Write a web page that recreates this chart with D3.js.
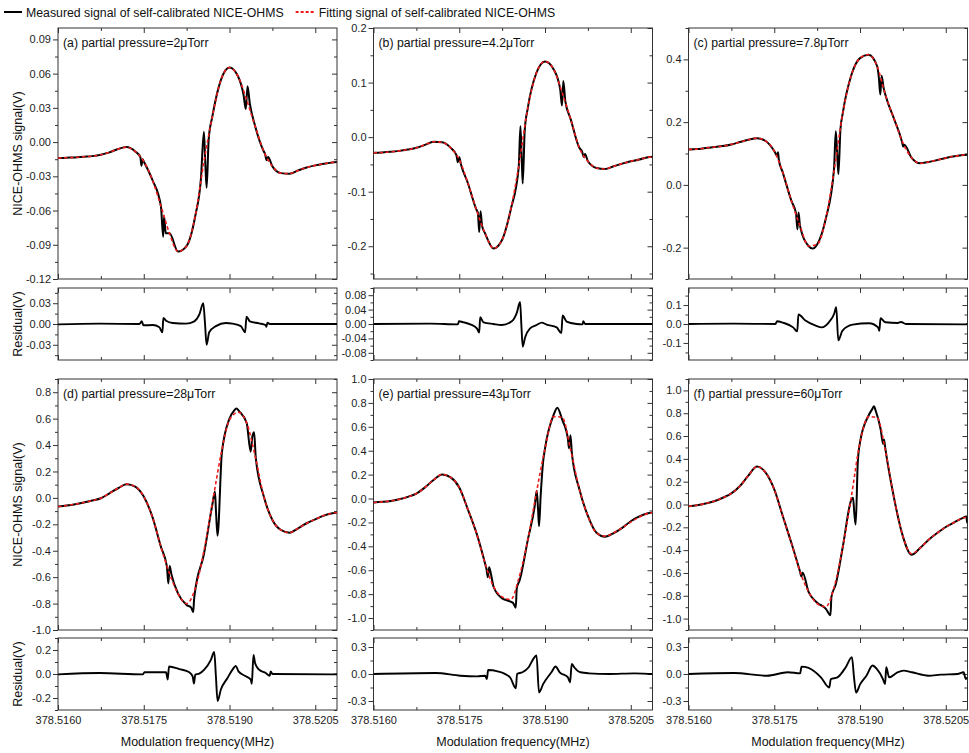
<!DOCTYPE html>
<html lang="en">
<head>
<meta charset="UTF-8">
<title>Self-calibrated NICE-OHMS signals</title>
<script src="https://d3js.org/d3.v7.min.js"></script>
<style>
  body { margin: 0; background: #fff; }
  svg { display: block; font-family: "Liberation Sans", Arial, sans-serif; }
  .tick text { font-size: 11px; fill: #222; }
  .domain { display: none; }
  .tick line { stroke: #333; }
</style>
</head>
<body>
<svg id="chart" width="969" height="753"></svg>
<script>
// x values are offsets from 378.5160 MHz, in kHz
const xDomain = [0, 4.88];
const xTicks = [0, 1.5, 3.0, 4.5];
const xMinorTicks = [0.75, 2.25, 3.75];
const xTickLabels = ["378.5160", "378.5175", "378.5190", "378.5205"];

// grid of the fitted curves
const fitGrid = [0, 0.15, 0.3, 0.45, 0.6, 0.75, 0.9, 1.05, 1.2, 1.35, 1.5, 1.65, 1.8, 1.95, 2.1, 2.25, 2.4,
  2.55, 2.7, 2.85, 3.0, 3.15, 3.3, 3.45, 3.6, 3.75, 3.9, 4.05, 4.2, 4.35, 4.5, 4.65, 4.8, 4.88];

// (a) 2 uTorr
const fitA = [-0.0140, -0.0137, -0.0134, -0.0128, -0.0123, -0.0111, -0.0090, -0.0061, -0.0044, -0.0082, -0.0169,
  -0.033, -0.056, -0.080, -0.096, -0.091, -0.065, -0.018, 0.0225, 0.0546, 0.0654, 0.0575, 0.037, 0.0137, -0.0082,
  -0.0213, -0.0272, -0.0277, -0.0248, -0.0222, -0.0204, -0.0190, -0.0178, -0.0175];
const measA = [[0,-0.0140],[0.15,-0.0137],[0.3,-0.0134],[0.45,-0.0128],[0.6,-0.0123],[0.75,-0.0111],[0.9,-0.0090],
  [1.05,-0.0061],[1.2,-0.0044],[1.35,-0.0082],[1.44,-0.0131],[1.46,-0.0207],[1.48,-0.0150],[1.5,-0.0169],[1.65,-0.033],
  [1.8,-0.056],[1.84,-0.083],[1.855,-0.065],[1.885,-0.080],[1.95,-0.080],[2.1,-0.096],[2.25,-0.091],[2.4,-0.065],
  [2.5,-0.032],[2.552,0.009],[2.576,-0.018],[2.6,-0.040],[2.635,0.002],[2.7,0.0225],[2.85,0.0546],[3.0,0.0654],
  [3.15,0.0575],[3.245,0.0415],[3.285,0.029],[3.315,0.049],[3.355,0.034],[3.45,0.0137],[3.6,-0.0082],[3.62,-0.0102],
  [3.65,-0.016],[3.675,-0.013],[3.75,-0.0213],[3.9,-0.0272],[4.05,-0.0277],[4.2,-0.0248],[4.35,-0.0222],[4.5,-0.0204],
  [4.65,-0.0190],[4.8,-0.0178],[4.88,-0.0175]];
const resA = [[0,-0.0005],[0.727,0.0005],[1.424,0],[1.465,0.0039],[1.494,-0.0019],[1.657,-0.0015],[1.773,-0.0048],
  [1.826,-0.012],[1.843,0.0087],[1.89,0.0048],[2.006,0.0015],[2.238,0.0005],[2.384,0.0039],[2.471,0.0135],[2.541,0.030],
  [2.57,0.0024],[2.599,-0.030],[2.645,-0.012],[2.762,-0.003],[2.936,0.0015],[3.052,0.0005],[3.198,-0.003],[3.273,-0.012],
  [3.297,0.0106],[3.355,0.0039],[3.517,0.001],[3.634,-0.0015],[3.645,-0.004],[3.663,0.002],[3.703,0],[4.74,0],[4.88,0]];

// (b) 4.2 uTorr
const fitB = [-0.0288, -0.0282, -0.027, -0.0252, -0.0227, -0.0196, -0.0141, -0.0085, -0.0095, -0.0196, -0.041, -0.084,
  -0.133, -0.176, -0.204, -0.188, -0.133, -0.047, 0.054, 0.118, 0.1387, 0.1245, 0.0816, 0.0325, -0.0196, -0.0442,
  -0.0564, -0.0583, -0.0534, -0.0485, -0.0442, -0.0411, -0.0368, -0.036];
const measB = [[0,-0.0288],[0.15,-0.0282],[0.3,-0.027],[0.45,-0.0252],[0.6,-0.0227],[0.75,-0.0196],[0.9,-0.0141],
  [1.05,-0.0085],[1.2,-0.0095],[1.35,-0.0196],[1.45,-0.033],[1.475,-0.046],[1.5,-0.037],[1.53,-0.050],[1.65,-0.084],
  [1.8,-0.133],[1.826,-0.139],[1.849,-0.174],[1.872,-0.136],[1.9,-0.163],[1.95,-0.176],[2.1,-0.204],[2.25,-0.188],
  [2.4,-0.133],[2.54,-0.055],[2.57,0.020],[2.593,-0.041],[2.61,-0.085],[2.645,0.012],[2.7,0.054],[2.85,0.118],
  [3.0,0.1387],[3.15,0.1245],[3.265,0.088],[3.297,0.058],[3.32,0.103],[3.355,0.066],[3.45,0.0325],[3.6,-0.0196],
  [3.65,-0.027],[3.675,-0.036],[3.7,-0.031],[3.75,-0.0442],[3.9,-0.0564],[4.05,-0.0583],[4.2,-0.0534],[4.35,-0.0485],
  [4.5,-0.0442],[4.65,-0.0411],[4.8,-0.0368],[4.88,-0.036]];
const resB = [[0,0],[0.994,0.001],[1.477,-0.001],[1.494,0.0075],[1.576,0.0047],[1.692,-0.001],[1.808,-0.0122],
  [1.849,-0.0235],[1.866,0.0188],[1.924,0.0047],[2.099,0],[2.244,-0.0028],[2.419,0.0075],[2.506,0.031],[2.564,0.061],
  [2.587,-0.0047],[2.61,-0.063],[2.651,-0.0376],[2.738,-0.0122],[2.855,-0.0028],[2.942,0.0038],[3.029,-0.0019],
  [3.204,-0.0094],[3.285,-0.0254],[3.308,0.0235],[3.378,0.0066],[3.552,0],[3.657,-0.001],[3.669,0.0075],[3.703,0],
  [4.83,0],[4.88,0]];

// (c) 7.8 uTorr
const fitC = [0.113, 0.114, 0.1175, 0.1206, 0.1238, 0.129, 0.1365, 0.144, 0.149, 0.1397, 0.108, 0.039, -0.051, -0.130,
  -0.195, -0.19, -0.109, 0.05, 0.23, 0.351, 0.404, 0.415, 0.378, 0.283, 0.208, 0.134, 0.087, 0.069, 0.073, 0.079,
  0.0857, 0.091, 0.095, 0.096];
const measC = [[0,0.113],[0.15,0.114],[0.3,0.1175],[0.45,0.1206],[0.6,0.1238],[0.75,0.129],[0.9,0.1365],[1.05,0.144],
  [1.2,0.149],[1.35,0.1397],[1.5,0.108],[1.55,0.093],[1.565,0.104],[1.58,0.08],[1.65,0.039],[1.8,-0.051],[1.88,-0.09],
  [1.905,-0.142],[1.925,-0.088],[1.95,-0.130],[2.1,-0.195],[2.17,-0.203],[2.25,-0.19],[2.4,-0.109],[2.545,0.05],
  [2.576,0.171],[2.6,0.103],[2.622,0.034],[2.657,0.175],[2.7,0.23],[2.85,0.351],[3.0,0.404],[3.15,0.415],[3.3,0.378],
  [3.33,0.341],[3.355,0.288],[3.378,0.348],[3.413,0.309],[3.45,0.283],[3.6,0.208],[3.735,0.137],[3.755,0.122],
  [3.775,0.128],[3.9,0.087],[4.05,0.069],[4.2,0.073],[4.35,0.079],[4.5,0.0857],[4.65,0.091],[4.8,0.095],[4.88,0.096]];
const resC = [[0,0],[0.789,0.0018],[1.52,0],[1.55,0.0143],[1.651,0.0071],[1.83,-0.0179],[1.902,-0.039],[1.923,0.05],
  [2.045,0.018],[2.225,-0.009],[2.332,-0.018],[2.455,0.009],[2.548,0.054],[2.584,0.089],[2.62,-0.086],[2.691,-0.036],
  [2.871,-0.0036],[3.158,0.0036],[3.316,-0.018],[3.337,-0.036],[3.359,0.030],[3.445,0.009],[3.66,0.0054],[3.718,0.0107],
  [3.804,0],[4.84,-0.0018],[4.88,0]];

// (d) 28 uTorr
const fitD = [-0.066, -0.058, -0.048, -0.035, -0.020, -0.0025, 0.035, 0.073, 0.104, 0.086, 0.010, -0.142, -0.370,
  -0.572, -0.724, -0.80, -0.686, -0.408, -0.041, 0.327, 0.592, 0.648, 0.567, 0.314, 0.010, -0.167, -0.243, -0.263,
  -0.230, -0.192, -0.162, -0.134, -0.116, -0.11];
const measD = [[0,-0.066],[0.15,-0.058],[0.3,-0.048],[0.45,-0.035],[0.6,-0.020],[0.75,-0.0025],[0.9,0.035],[1.05,0.073],
  [1.2,0.104],[1.35,0.086],[1.5,0.010],[1.65,-0.142],[1.8,-0.370],[1.905,-0.52],[1.93,-0.648],[1.953,-0.516],
  [1.983,-0.577],[2.1,-0.724],[2.25,-0.81],[2.33,-0.83],[2.365,-0.865],[2.38,-0.77],[2.4,-0.70],[2.55,-0.43],[2.7,-0.05],
  [2.745,0.048],[2.765,-0.116],[2.79,-0.286],[2.866,0.34],[3.0,0.60],[3.08,0.66],[3.12,0.676],[3.17,0.655],[3.3,0.567],
  [3.37,0.35],[3.40,0.466],[3.43,0.496],[3.46,0.30],[3.6,0.01],[3.75,-0.167],[3.9,-0.243],[4.05,-0.263],[4.2,-0.230],
  [4.35,-0.192],[4.5,-0.162],[4.65,-0.134],[4.8,-0.116],[4.88,-0.11]];
const resD = [[0,-0.003],[0.727,0.008],[1.483,-0.003],[1.512,0.014],[1.89,0.014],[1.919,-0.047],[1.942,0.063],
  [2.122,0.041],[2.297,0.014],[2.355,-0.019],[2.378,-0.079],[2.401,-0.005],[2.471,0.003],[2.558,0.036],[2.674,0.118],
  [2.733,0.184],[2.762,-0.019],[2.791,-0.225],[2.849,-0.129],[2.965,-0.033],[3.052,0.036],[3.11,0.068],[3.157,0.022],
  [3.285,-0.019],[3.372,-0.047],[3.39,-0.082],[3.419,0.159],[3.448,0.090],[3.517,0.036],[3.634,0.008],[3.703,-0.014],
  [3.721,0.022],[3.75,0],[4.797,-0.003],[4.88,-0.002]];

// (e) 43 uTorr
const fitE = [-0.034, -0.028, -0.020, -0.006, 0.014, 0.042, 0.093, 0.155, 0.202, 0.177, 0.093, -0.090, -0.287, -0.541,
  -0.738, -0.823, -0.845, -0.654, -0.344, 0.051, 0.417, 0.685, 0.68, 0.403, 0.079, -0.146, -0.287, -0.315, -0.287,
  -0.245, -0.197, -0.155, -0.124, -0.118];
const measE = [[0,-0.034],[0.15,-0.028],[0.3,-0.020],[0.45,-0.006],[0.6,0.014],[0.75,0.042],[0.9,0.093],[1.05,0.155],
  [1.2,0.202],[1.35,0.177],[1.5,0.093],[1.65,-0.090],[1.8,-0.287],[1.95,-0.541],[1.977,-0.592],[2.0,-0.659],
  [2.023,-0.575],[2.058,-0.64],[2.1,-0.738],[2.25,-0.835],[2.33,-0.851],[2.44,-0.873],[2.488,-0.913],[2.506,-0.752],
  [2.558,-0.682],[2.7,-0.344],[2.82,-0.062],[2.855,0.065],[2.878,-0.09],[2.895,-0.231],[2.924,0.023],[2.965,0.30],
  [3.0,0.42],[3.15,0.70],[3.215,0.76],[3.3,0.66],[3.4,0.50],[3.42,0.42],[3.445,0.53],[3.47,0.38],[3.6,0.079],
  [3.75,-0.146],[3.9,-0.287],[4.05,-0.32],[4.2,-0.29],[4.35,-0.245],[4.5,-0.19],[4.65,-0.15],[4.8,-0.124],[4.88,-0.118]];
const resE = [[0,0],[1.086,0.011],[1.52,-0.019],[1.809,-0.026],[1.954,-0.019],[1.983,-0.056],[2.005,0.045],[2.171,0.03],
  [2.388,-0.0375],[2.49,-0.158],[2.511,0],[2.605,0.019],[2.714,0.075],[2.808,0.18],[2.851,0.206],[2.895,-0.206],
  [2.967,-0.1125],[3.112,0.019],[3.184,0.083],[3.257,0.019],[3.401,-0.0375],[3.438,-0.094],[3.467,0.113],[3.51,0.075],
  [3.618,0.019],[3.763,0.0075],[4.125,0],[4.559,0.0075],[4.87,0],[4.88,0]];

// (f) 60 uTorr
const fitF = [-0.015, -0.006, 0.009, 0.029, 0.059, 0.097, 0.162, 0.256, 0.332, 0.279, 0.132, -0.103, -0.338, -0.588,
  -0.765, -0.868, -0.897, -0.72, -0.368, 0.074, 0.544, 0.77, 0.76, 0.456, 0.044, -0.279, -0.432, -0.382, -0.309, -0.25,
  -0.197, -0.156, -0.118, -0.109];
const measF = [[0,-0.015],[0.15,-0.006],[0.3,0.009],[0.45,0.029],[0.6,0.059],[0.75,0.097],[0.9,0.162],[1.05,0.256],
  [1.2,0.332],[1.35,0.279],[1.5,0.132],[1.65,-0.103],[1.8,-0.338],[1.95,-0.588],[1.975,-0.632],[1.995,-0.597],
  [2.1,-0.765],[2.25,-0.86],[2.4,-0.912],[2.483,-0.97],[2.5,-0.81],[2.576,-0.70],[2.7,-0.368],[2.85,0.044],[2.878,0.06],
  [2.9,-0.074],[2.924,-0.176],[2.96,0.36],[3.0,0.544],[3.15,0.78],[3.215,0.838],[3.244,0.862],[3.273,0.824],[3.36,0.662],
  [3.405,0.53],[3.42,0.57],[3.44,0.50],[3.6,0.044],[3.75,-0.279],[3.9,-0.44],[4.05,-0.382],[4.2,-0.309],[4.35,-0.25],
  [4.5,-0.197],[4.65,-0.156],[4.8,-0.118],[4.86,-0.105],[4.875,-0.16],[4.88,-0.14]];
const resF = [[0,0],[0.796,0.011],[1.375,-0.019],[1.737,0.019],[1.954,0.0075],[1.976,0.0825],[2.099,0.0675],
  [2.316,-0.0375],[2.461,-0.15],[2.49,-0.056],[2.605,-0.0375],[2.75,0.075],[2.859,0.1875],[2.895,-0.0375],[2.931,-0.206],
  [3.003,-0.1125],[3.112,-0.019],[3.22,0.094],[3.293,0.056],[3.401,-0.056],[3.438,-0.1125],[3.459,0.075],[3.51,-0.0375],
  [3.655,0.019],[3.763,0.0375],[3.908,0.019],[4.197,-0.019],[4.414,-0.0075],[4.704,0],[4.813,0.019],[4.849,-0.056],
  [4.88,-0.0375]];

const panelLabels = ["(a) partial pressure=2\u03bcTorr", "(b) partial pressure=4.2\u03bcTorr",
  "(c) partial pressure=7.8\u03bcTorr", "(d) partial pressure=28\u03bcTorr",
  "(e) partial pressure=43\u03bcTorr", "(f) partial pressure=60\u03bcTorr"];

// y axes of the signal panels
const mainDomains = [[-0.12, 0.1], [-0.26, 0.2], [-0.3, 0.5], [-1.0, 0.9], [-1.1, 1.0], [-1.1, 1.1]];
const mainTicks = [[-0.12, -0.09, -0.06, -0.03, 0, 0.03, 0.06, 0.09], [-0.2, -0.1, 0, 0.1, 0.2], [-0.2, 0, 0.2, 0.4],
  [-1.0, -0.8, -0.6, -0.4, -0.2, 0, 0.2, 0.4, 0.6, 0.8], [-1.0, -0.8, -0.6, -0.4, -0.2, 0, 0.2, 0.4, 0.6, 0.8, 1.0],
  [-1.0, -0.8, -0.6, -0.4, -0.2, 0, 0.2, 0.4, 0.6, 0.8, 1.0]];
const mainMinorStep = [0.015, 0.05, 0.1, 0.1, 0.1, 0.1];
const mainDecimals = [2, 1, 1, 1, 1, 1];

// y axes of the residual panels
const resDomains = [[-0.052, 0.052], [-0.1, 0.1], [-0.19, 0.19], [-0.3, 0.3], [-0.4, 0.4], [-0.4, 0.4]];
const resTicks = [[-0.03, 0, 0.03], [-0.08, -0.04, 0, 0.04, 0.08], [-0.1, 0, 0.1], [-0.2, 0, 0.2], [-0.3, 0, 0.3], [-0.3, 0, 0.3]];
const resMinorStep = [0.015, 0.02, 0.05, 0.1, 0.15, 0.15];
const resDecimals = [2, 2, 1, 1, 1, 1];

const fits = [fitA, fitB, fitC, fitD, fitE, fitF];
const measured = [measA, measB, measC, measD, measE, measF];
const residuals = [resA, resB, resC, resD, resE, resF];

const svg = d3.select("#chart");
const colX = [58, 373.5, 688.5], colW = 279;
const mainY = [28, 379], mainH = 251;
const resY = [288, 638], resH = 72;

function minorValues(domain, step, majors) {
    const out = [];
    for (let k = Math.ceil(domain[0] / step - 1e-6); k * step <= domain[1] + 1e-9; k++) {
        const v = k * step;
        if (!majors.some(m => Math.abs(m - v) < step / 10)) out.push(v);
    }
    return out;
}

// frame, ticks and clip for one box
function drawBox(id, x, y, yTicks, yStep, dec, xLabels) {
    const [x0, x1] = x.range();
    const [y1, y0] = y.range();
    const g = svg.append("g");
    const yMinor = minorValues(y.domain(), yStep, yTicks);

    svg.append("clipPath").attr("id", id)
        .append("rect").attr("x", x0).attr("y", y0).attr("width", x1 - x0).attr("height", y1 - y0);

    g.append("g").attr("transform", `translate(${x0},0)`)
        .call(d3.axisLeft(y).tickValues(yTicks).tickSize(5).tickPadding(2).tickFormat(d => d.toFixed(dec)));
    g.append("g").attr("transform", `translate(${x0},0)`)
        .call(d3.axisLeft(y).tickValues(yMinor).tickSize(3).tickFormat(""));
    g.append("g").attr("transform", `translate(${x1},0)`)
        .call(d3.axisRight(y).tickValues(yTicks).tickSize(-5).tickFormat(""));
    g.append("g").attr("transform", `translate(${x1},0)`)
        .call(d3.axisRight(y).tickValues(yMinor).tickSize(-3).tickFormat(""));

    g.append("g").attr("transform", `translate(0,${y0})`)
        .call(d3.axisTop(x).tickValues(xTicks).tickSize(-5).tickFormat(""));
    g.append("g").attr("transform", `translate(0,${y0})`)
        .call(d3.axisTop(x).tickValues(xMinorTicks).tickSize(-3).tickFormat(""));
    g.append("g").attr("transform", `translate(0,${y1})`)
        .call(d3.axisBottom(x).tickValues(xTicks).tickSize(-5).tickPadding(6)
            .tickFormat((d, k) => xLabels ? xTickLabels[k] : ""));
    g.append("g").attr("transform", `translate(0,${y1})`)
        .call(d3.axisBottom(x).tickValues(xMinorTicks).tickSize(-3).tickFormat(""));

    g.append("rect").attr("x", x0).attr("y", y0).attr("width", x1 - x0).attr("height", y1 - y0)
        .attr("fill", "none").attr("stroke", "#333").attr("stroke-width", 1);
}

fits.forEach((fit, i) => {
    const col = i % 3, row = Math.floor(i / 3);
    const x = d3.scaleLinear().domain(xDomain).range([colX[col], colX[col] + colW]);
    const yMain = d3.scaleLinear().domain(mainDomains[i]).range([mainY[row] + mainH, mainY[row]]);
    const yRes = d3.scaleLinear().domain(resDomains[i]).range([resY[row] + resH, resY[row]]);

    drawBox(`clipM${i}`, x, yMain, mainTicks[i], mainMinorStep[i], mainDecimals[i], false);
    drawBox(`clipR${i}`, x, yRes, resTicks[i], resMinorStep[i], resDecimals[i], row === 1);

    const lineMain = d3.line().x(d => x(d[0])).y(d => yMain(d[1])).curve(d3.curveMonotoneX);
    const lineRes = d3.line().x(d => x(d[0])).y(d => yRes(d[1])).curve(d3.curveMonotoneX);

    // measured signal
    svg.append("path").datum(measured[i])
        .attr("clip-path", `url(#clipM${i})`)
        .attr("fill", "none").attr("stroke", "#000").attr("stroke-width", 2)
        .attr("stroke-linejoin", "round").attr("d", lineMain);

    // fitted signal
    svg.append("path").datum(fitGrid.map((f, k) => [f, fit[k]]))
        .attr("clip-path", `url(#clipM${i})`)
        .attr("fill", "none").attr("stroke", "#ee1c1c").attr("stroke-width", 1.6)
        .attr("stroke-dasharray", "3.5,2.5").attr("d", lineMain);

    // residual
    svg.append("path").datum(residuals[i])
        .attr("clip-path", `url(#clipR${i})`)
        .attr("fill", "none").attr("stroke", "#000").attr("stroke-width", 1.9)
        .attr("stroke-linejoin", "round").attr("d", lineRes);

    svg.append("text")
        .attr("x", colX[col] + 5).attr("y", mainY[row] + 19)
        .attr("font-size", "12.3px").attr("fill", "#111")
        .text(panelLabels[i]);

    if (row === 1) {
        svg.append("text")
            .attr("x", colX[col] + colW / 2).attr("y", 746)
            .attr("text-anchor", "middle").attr("font-size", "12.5px").attr("fill", "#111")
            .text("Modulation frequency(MHz)");
    }
    if (col === 0) {
        svg.append("text")
            .attr("transform", "rotate(-90)")
            .attr("x", -(mainY[row] + mainH / 2)).attr("y", 22)
            .attr("text-anchor", "middle").attr("font-size", "12.5px").attr("fill", "#111")
            .text("NICE-OHMS signal(V)");
        svg.append("text")
            .attr("transform", "rotate(-90)")
            .attr("x", -(resY[row] + resH / 2)).attr("y", 22)
            .attr("text-anchor", "middle").attr("font-size", "12.5px").attr("fill", "#111")
            .text("Residual(V)");
    }
});

// legend
const legend = svg.append("g");
legend.append("line").attr("x1", 4).attr("x2", 22).attr("y1", 12).attr("y2", 12)
    .attr("stroke", "#000").attr("stroke-width", 2);
const firstLabel = legend.append("text").attr("x", 26).attr("y", 16.5).attr("font-size", "12.3px").attr("fill", "#111")
    .text("Measured signal of self-calibrated NICE-OHMS");
const redX = 26 + firstLabel.node().getComputedTextLength() + 12;
legend.append("line").attr("x1", redX).attr("x2", redX + 20).attr("y1", 12).attr("y2", 12)
    .attr("stroke", "#ee1c1c").attr("stroke-width", 2).attr("stroke-dasharray", "3,2");
legend.append("text").attr("x", redX + 23).attr("y", 16.5).attr("font-size", "12.3px").attr("fill", "#111")
    .text("Fitting signal of self-calibrated NICE-OHMS");
</script>
</body>
</html>
